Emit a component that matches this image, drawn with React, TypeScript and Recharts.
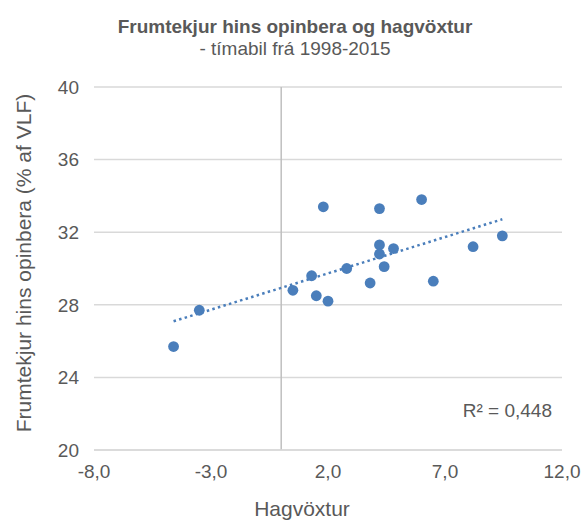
import { ScatterChart, Scatter, XAxis, YAxis, CartesianGrid, ReferenceLine } from 'recharts'

// hagvöxtur (%) og frumtekjur hins opinbera (% af VLF), 1998-2015
const growth = [-4.6, -3.5, 0.5, 1.8, 4.2, 6.0, 9.45, 8.2, 4.2, 4.2, 4.8, 4.4, 2.8, 1.3, 3.8, 6.5, 1.5, 2.0]
const revenue = [25.7, 27.7, 28.8, 33.4, 33.3, 33.8, 31.8, 31.2, 31.3, 30.8, 31.1, 30.1, 30.0, 29.6, 29.2, 29.3, 28.5, 28.2]
const xTicks = [-8, -3, 2, 7, 12]
const yTicks = [20, 24, 28, 32, 36, 40]

const points = growth.map((x, i) => ({ x, y: revenue[i] }))

// línuleg leitni (least squares)
const n = growth.length
const mx = growth.reduce((a, b) => a + b, 0) / n
const my = revenue.reduce((a, b) => a + b, 0) / n
let sxy = 0
let sxx = 0
growth.forEach((x, i) => {
  sxy += (x - mx) * (revenue[i] - my)
  sxx += (x - mx) * (x - mx)
})
const slope = sxy / sxx
const icpt = my - slope * mx
const xMin = Math.min(...growth)
const xMax = Math.max(...growth)
const trend = [
  { x: xMin, y: icpt + slope * xMin },
  { x: xMax, y: icpt + slope * xMax },
]

const FONT = '"Liberation Sans", Arial, sans-serif'
const GREY = '#595959'
const BLUE = '#4a7ebb'

const fmt = (v: number) => v.toFixed(1).replace('.', ',')

const Dot = (props: any) => <circle cx={props.cx} cy={props.cy} r={5.4} fill={BLUE} />

export default function App() {
  return (
    <div style={{ position: 'absolute', left: 0, top: 0, width: 583, height: 520, background: '#fff', fontFamily: FONT }}>
      <div
        style={{
          position: 'absolute', left: 0, top: 16, width: 590, textAlign: 'center',
          color: GREY, fontSize: 19, lineHeight: '22px',
        }}
      >
        <div style={{ fontWeight: 'bold' }}>Frumtekjur hins opinbera og hagvöxtur</div>
        <div>- tímabil frá 1998-2015</div>
      </div>
      <ScatterChart width={583} height={520} margin={{ top: 87, right: 21, left: 0, bottom: 0 }}>
        <CartesianGrid vertical={false} stroke="#d9d9d9" strokeWidth={1.5} />
        <XAxis
          type="number"
          dataKey="x"
          domain={[-8, 12]}
          ticks={xTicks}
          tickFormatter={fmt}
          allowDataOverflow
          height={70}
          tickSize={0}
          tickMargin={15}
          axisLine={{ stroke: '#d9d9d9', strokeWidth: 1.5 }}
          tick={{ fill: GREY, fontSize: 19, fontFamily: FONT }}
        />
        <YAxis
          type="number"
          dataKey="y"
          domain={[20, 40]}
          ticks={yTicks}
          allowDataOverflow
          width={94}
          tickSize={0}
          tickMargin={15}
          axisLine={false}
          tick={{ fill: GREY, fontSize: 19, fontFamily: FONT }}
        />
        <ReferenceLine x={0} stroke="#bfbfbf" strokeWidth={1.5} />
        <Scatter
          data={trend}
          isAnimationActive={false}
          line={{ stroke: BLUE, strokeWidth: 2.5, strokeDasharray: '2.5 3.3' }}
          shape={() => null}
        />
        <Scatter data={points} fill={BLUE} isAnimationActive={false} shape={Dot} />
      </ScatterChart>
      <div
        style={{
          position: 'absolute', left: 24, top: 263, transform: 'translate(-50%, -50%) rotate(-90deg)',
          whiteSpace: 'nowrap', color: GREY, fontSize: 21, lineHeight: '24px',
        }}
      >
        Frumtekjur hins opinbera (% af VLF)
      </div>
      <div
        style={{
          position: 'absolute', left: 202, top: 497, width: 200, textAlign: 'center',
          color: GREY, fontSize: 21, lineHeight: '24px',
        }}
      >
        Hagvöxtur
      </div>
      <div
        style={{
          position: 'absolute', right: 583 - 552, top: 401, textAlign: 'right',
          color: GREY, fontSize: 19, lineHeight: '20px', whiteSpace: 'nowrap',
        }}
      >
        R² = 0,448
      </div>
    </div>
  )
}
